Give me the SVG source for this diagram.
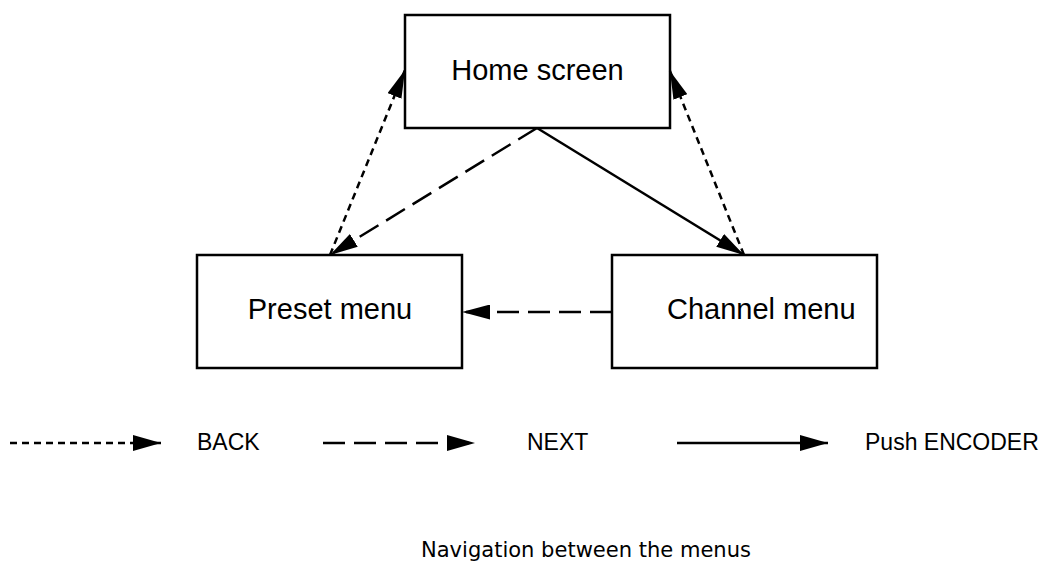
<svg xmlns="http://www.w3.org/2000/svg" width="1056" height="561" viewBox="0 0 1056 561">
<style>
.box{fill:#fff;stroke:#000;stroke-width:2.5}
.lbl{font-family:"Liberation Sans",Arial,sans-serif;font-size:29px;fill:#000}
.leg{font-family:"Liberation Sans",Arial,sans-serif;font-size:23px;fill:#000}
.cap{font-family:"DejaVu Sans",Tahoma,sans-serif;font-size:22px;fill:#000}
.ln{fill:none;stroke:#000;stroke-width:2.5}
.back{stroke-dasharray:7 5}
.next{stroke-dasharray:22 9}
</style>
<defs>
<marker id="ah" markerUnits="userSpaceOnUse" markerWidth="28" markerHeight="15" refX="28" refY="7.5" orient="auto" viewBox="0 0 28 15">
<path d="M0,0 L28,7.5 L0,15 z" fill="#000"/>
</marker>
<marker id="ahl" markerUnits="userSpaceOnUse" markerWidth="28" markerHeight="16" refX="28" refY="8" orient="auto" viewBox="0 0 28 16">
<path d="M0,0 L28,8 L0,16 z" fill="#000"/>
</marker>
</defs>
<g id="home"><rect class="box" x="405" y="15" width="265" height="113"/><text class="lbl" x="537.5" y="80" text-anchor="middle">Home screen</text></g>
<g id="preset"><rect class="box" x="197" y="255" width="265" height="113"/><text class="lbl" x="330" y="319" text-anchor="middle">Preset menu</text></g>
<g id="channel"><rect class="box" x="612" y="255" width="265" height="113"/><text class="lbl" x="667" y="319">Channel menu</text></g>
<g id="connectors">
<line class="ln next" x1="537" y1="128" x2="330" y2="255" marker-end="url(#ah)"/>
<line class="ln" x1="537" y1="128" x2="744" y2="255" marker-end="url(#ah)"/>
<line class="ln back" x1="330" y1="255" x2="405" y2="70" marker-end="url(#ah)"/>
<line class="ln back" x1="744" y1="255" x2="670" y2="71" marker-end="url(#ah)"/>
<line class="ln next" x1="612" y1="312" x2="462" y2="312" marker-end="url(#ah)"/>
</g>
<g id="legend">
<line class="ln back" x1="10" y1="443" x2="161" y2="443" marker-end="url(#ahl)"/>
<text class="leg" x="197" y="450">BACK</text>
<line class="ln next" x1="323" y1="443" x2="475" y2="443" marker-end="url(#ahl)"/>
<text class="leg" x="527" y="450">NEXT</text>
<line class="ln" x1="677" y1="443" x2="828" y2="443" marker-end="url(#ahl)"/>
<text class="leg" x="865" y="450">Push ENCODER</text>
</g>
<text class="cap" x="421" y="557" textLength="330" lengthAdjust="spacingAndGlyphs">Navigation between the menus</text>
</svg>
